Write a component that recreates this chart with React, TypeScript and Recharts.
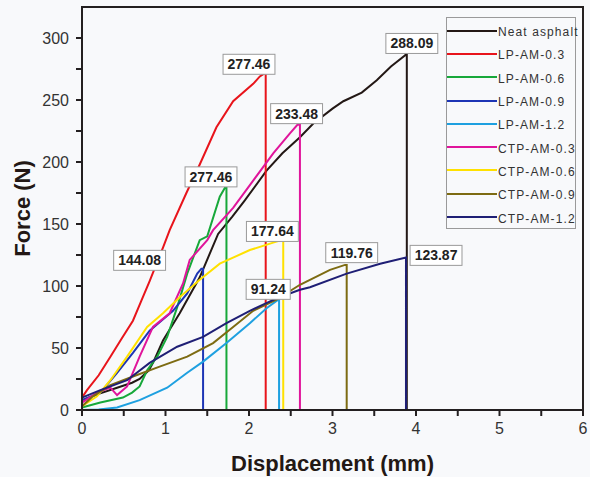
import React from "react"
import {
  LineChart,
  Line,
  XAxis,
  YAxis,
  ReferenceArea,
  ReferenceDot,
  Legend,
} from "recharts"

const FONT = '"Liberation Sans", Arial, sans-serif'

// [displacement (mm), force (N)]; last point is the drop at failure
const neatAsphalt = [
  [0, 8], [0.2, 13], [0.42, 18], [0.6, 22], [0.69, 25], [0.8, 32], [0.85, 38],
  [0.97, 56], [1.17, 78], [1.41, 107], [1.63, 142], [1.8, 156], [1.95, 169],
  [2.21, 193], [2.4, 207], [2.61, 220], [2.77, 231], [3.0, 243], [3.13, 249],
  [3.35, 256], [3.53, 266], [3.7, 277], [3.87, 286], [3.89, 288], [3.89, 0],
]
const lpAm03 = [
  [0, 10], [0.06, 16], [0.2, 28], [0.34, 43], [0.47, 57], [0.61, 72], [0.71, 88],
  [0.81, 104], [0.97, 131], [1.05, 145], [1.25, 175], [1.41, 198], [1.61, 228],
  [1.81, 249], [2.05, 263], [2.13, 269], [2.2, 272], [2.2, 0],
]
const lpAm06 = [
  [0, 2], [0.22, 6], [0.49, 10], [0.6, 14], [0.69, 19], [0.78, 32], [0.9, 43],
  [1.02, 59], [1.14, 83], [1.26, 110], [1.41, 137], [1.5, 140], [1.65, 172],
  [1.71, 179], [1.73, 179], [1.73, 0],
]
const lpAm09 = [
  [0, 8], [0.22, 14], [0.42, 30], [0.61, 46], [0.81, 64], [1.09, 80], [1.26, 94],
  [1.38, 110], [1.43, 114], [1.45, 114], [1.45, 0],
]
const lpAm12 = [
  [0, 0], [0.2, 0.5], [0.42, 2], [0.69, 8], [1.02, 18], [1.26, 30], [1.45, 39],
  [1.73, 54], [2.01, 70], [2.21, 82], [2.33, 88], [2.36, 89], [2.36, 0],
]
const ctpAm03 = [
  [0, 6], [0.18, 14], [0.34, 18], [0.42, 12], [0.54, 19], [0.69, 43], [0.85, 67],
  [1.05, 78], [1.21, 102], [1.29, 121], [1.5, 137], [1.57, 145], [1.81, 163],
  [2.05, 185], [2.29, 207], [2.49, 223], [2.58, 230], [2.61, 230], [2.61, 0],
]
const ctpAm06 = [
  [0, 3], [0.18, 11], [0.34, 24], [0.54, 43], [0.78, 67], [0.97, 78], [1.17, 91],
  [1.41, 105], [1.65, 118], [2.01, 129], [2.29, 135], [2.39, 137], [2.41, 137], [2.41, 0],
]
const ctpAm09 = [
  [0, 3], [0.13, 11], [0.34, 20], [0.61, 27], [0.93, 35], [1.26, 43], [1.57, 54],
  [1.81, 67], [2.05, 80], [2.33, 89], [2.61, 101], [2.73, 105], [2.97, 113],
  [3.15, 117], [3.17, 117], [3.17, 0],
]
const ctpAm12 = [
  [0, 10], [0.22, 16], [0.54, 24], [0.81, 38], [1.14, 51], [1.45, 59], [1.73, 70],
  [2.01, 80], [2.33, 90], [2.61, 97], [2.73, 99], [3.17, 110], [3.57, 118],
  [3.88, 123], [3.88, 0],
]

const seriesNames = [
  "Neat asphalt", "LP-AM-0.3", "LP-AM-0.6", "LP-AM-0.9", "LP-AM-1.2",
  "CTP-AM-0.3", "CTP-AM-0.6", "CTP-AM-0.9", "CTP-AM-1.2",
]
const seriesColors = [
  "#231815", "#e8141b", "#17a83a", "#1d35b5", "#1ea0e0",
  "#e0159b", "#ffe100", "#7d6b12", "#1f1f75",
]
const seriesPoints = [neatAsphalt, lpAm03, lpAm06, lpAm09, lpAm12, ctpAm03, ctpAm06, ctpAm09, ctpAm12]

// boxed peak annotations (centre in data units)
const peakLabels = [
  { x: 2.0, y: 278.8, text: "277.46" },
  { x: 1.545, y: 188, text: "277.46" },
  { x: 2.57, y: 239, text: "233.48" },
  { x: 3.95, y: 295.6, text: "288.09" },
  { x: 0.69, y: 120.7, text: "144.08" },
  { x: 2.28, y: 144, text: "177.64" },
  { x: 2.23, y: 97.3, text: "91.24" },
  { x: 3.23, y: 126.9, text: "119.76" },
  { x: 4.24, y: 124.7, text: "123.87" },
]

const xTicks = [0, 0.5, 1, 1.5, 2, 2.5, 3, 3.5, 4, 4.5, 5, 5.5, 6]
const yTicks = [0, 25, 50, 75, 100, 125, 150, 175, 200, 225, 250, 275, 300]

const axisColor = "#231f20"

function BoxLabel({ cx, cy, text }: { cx?: number; cy?: number; text: string }) {
  if (cx == null || cy == null) return null
  let w = 9
  for (const ch of text) w += ch === "." ? 3.9 : 7.8
  const h = 20
  return (
    <g>
      <rect x={cx - w / 2} y={cy - h / 2} width={w} height={h} fill="#ffffff" stroke="#9a9a9a" strokeWidth={1} />
      <text x={cx} y={cy + 5} textAnchor="middle" fontFamily={FONT} fontWeight="bold" fontSize={14} fill="#222">
        {text}
      </text>
    </g>
  )
}

function LegendBox() {
  return (
    <div
      style={{
        width: 130,
        height: 212,
        boxSizing: "border-box",
        border: "1px solid #9a9a9a",
        background: "#f8f9fb",
        paddingTop: 1,
        fontFamily: FONT,
        textAlign: "left",
      }}
    >
      {seriesNames.map((name, i) => (
        <div key={name} style={{ display: "flex", alignItems: "center", height: 23.3, whiteSpace: "nowrap" }}>
          <div style={{ width: 50, height: 2, flex: "none", background: seriesColors[i] }} />
          <span style={{ fontSize: 12, letterSpacing: 1.1, color: "#333", marginLeft: 1, marginTop: 3 }}>{name}</span>
        </div>
      ))}
    </div>
  )
}

export default function App() {
  return (
    <div style={{ position: "absolute", left: 0, top: 0, width: 590, height: 477, background: "#f8f9fb" }}>
      <LineChart width={590} height={477} margin={{ top: 7, right: 7, bottom: 0, left: 0 }}>
        <XAxis
          type="number"
          dataKey="x"
          domain={[0, 6]}
          ticks={xTicks}
          interval={0}
          tickFormatter={(v) => (Number.isInteger(v) ? String(v) : "")}
          tick={{ fill: "#333", fontSize: 16, fontFamily: FONT }}
          tickSize={6}
          tickMargin={7}
          tickLine={{ stroke: axisColor, strokeWidth: 2 }}
          axisLine={{ stroke: axisColor, strokeWidth: 2 }}
          height={67}
          label={{
            value: "Displacement (mm)",
            position: "insideBottom",
            offset: 6,
            style: { fontFamily: FONT, fontWeight: "bold", fontSize: 22, fill: "#231815" },
          }}
        />
        <YAxis
          type="number"
          domain={[0, 325]}
          ticks={yTicks}
          interval={0}
          tickFormatter={(v) => (v % 50 === 0 ? String(v) : "")}
          tick={{ fill: "#333", fontSize: 16, fontFamily: FONT }}
          tickSize={6}
          tickMargin={7}
          tickLine={{ stroke: axisColor, strokeWidth: 2 }}
          axisLine={{ stroke: axisColor, strokeWidth: 2 }}
          width={82}
          label={{
            content: (props: any) => {
              const vb = props.viewBox || {}
              const x = (vb.x ?? 0) + 22
              const y = (vb.y ?? 0) + (vb.height ?? 0) / 2
              return (
                <text
                  x={x}
                  y={y}
                  transform={`rotate(-90, ${x}, ${y})`}
                  textAnchor="middle"
                  dominantBaseline="central"
                  fontFamily={FONT}
                  fontWeight="bold"
                  fontSize={22}
                  fill="#231815"
                >
                  Force (N)
                </text>
              )
            },
          }}
        />
        <ReferenceArea x1={0} x2={6} y1={0} y2={325} fill="none" stroke={axisColor} strokeWidth={2} />
        {seriesPoints.map((pts, i) => (
          <Line
            key={seriesNames[i]}
            name={seriesNames[i]}
            data={pts.map(([x, y]) => ({ x, y }))}
            dataKey="y"
            type="linear"
            stroke={seriesColors[i]}
            strokeWidth={2}
            dot={false}
            isAnimationActive={false}
          />
        ))}
        {peakLabels.map((p, i) => (
          <ReferenceDot
            key={i}
            x={p.x}
            y={p.y}
            r={0}
            ifOverflow="visible"
            shape={(props: any) => <BoxLabel cx={props.cx} cy={props.cy} text={p.text} />}
          />
        ))}
        <Legend
          layout="vertical"
          align="center"
          verticalAlign="middle"
          wrapperStyle={{ left: 446, top: 17, width: 130 }}
          content={() => <LegendBox />}
        />
      </LineChart>
    </div>
  )
}
